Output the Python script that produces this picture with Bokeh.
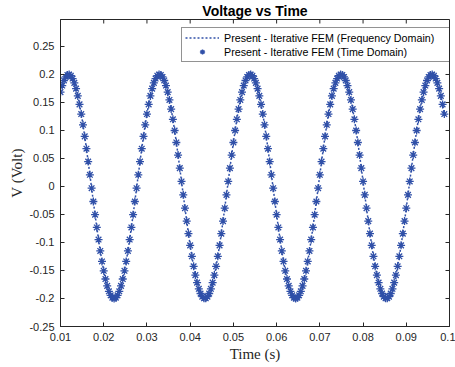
from bokeh.plotting import figure
from bokeh.models import Range1d, FixedTicker, Legend, LegendItem
from bokeh.embed import file_html
from bokeh.resources import INLINE

# ---- data ----
time_s = [
    0.0100, 0.0104, 0.0108, 0.0112, 0.0116, 0.0120, 0.0124, 0.0128, 0.0132, 0.0136,
    0.0140, 0.0144, 0.0148, 0.0152, 0.0156, 0.0160, 0.0164, 0.0168, 0.0172, 0.0176,
    0.0180, 0.0184, 0.0188, 0.0192, 0.0196, 0.0200, 0.0204, 0.0208, 0.0212, 0.0216,
    0.0220, 0.0224, 0.0228, 0.0232, 0.0236, 0.0240, 0.0244, 0.0248, 0.0252, 0.0256,
    0.0260, 0.0264, 0.0268, 0.0272, 0.0276, 0.0280, 0.0284, 0.0288, 0.0292, 0.0296,
    0.0300, 0.0304, 0.0308, 0.0312, 0.0316, 0.0320, 0.0324, 0.0328, 0.0332, 0.0336,
    0.0340, 0.0344, 0.0348, 0.0352, 0.0356, 0.0360, 0.0364, 0.0368, 0.0372, 0.0376,
    0.0380, 0.0384, 0.0388, 0.0392, 0.0396, 0.0400, 0.0404, 0.0408, 0.0412, 0.0416,
    0.0420, 0.0424, 0.0428, 0.0432, 0.0436, 0.0440, 0.0444, 0.0448, 0.0452, 0.0456,
    0.0460, 0.0464, 0.0468, 0.0472, 0.0476, 0.0480, 0.0484, 0.0488, 0.0492, 0.0496,
    0.0500, 0.0504, 0.0508, 0.0512, 0.0516, 0.0520, 0.0524, 0.0528, 0.0532, 0.0536,
    0.0540, 0.0544, 0.0548, 0.0552, 0.0556, 0.0560, 0.0564, 0.0568, 0.0572, 0.0576,
    0.0580, 0.0584, 0.0588, 0.0592, 0.0596, 0.0600, 0.0604, 0.0608, 0.0612, 0.0616,
    0.0620, 0.0624, 0.0628, 0.0632, 0.0636, 0.0640, 0.0644, 0.0648, 0.0652, 0.0656,
    0.0660, 0.0664, 0.0668, 0.0672, 0.0676, 0.0680, 0.0684, 0.0688, 0.0692, 0.0696,
    0.0700, 0.0704, 0.0708, 0.0712, 0.0716, 0.0720, 0.0724, 0.0728, 0.0732, 0.0736,
    0.0740, 0.0744, 0.0748, 0.0752, 0.0756, 0.0760, 0.0764, 0.0768, 0.0772, 0.0776,
    0.0780, 0.0784, 0.0788, 0.0792, 0.0796, 0.0800, 0.0804, 0.0808, 0.0812, 0.0816,
    0.0820, 0.0824, 0.0828, 0.0832, 0.0836, 0.0840, 0.0844, 0.0848, 0.0852, 0.0856,
    0.0860, 0.0864, 0.0868, 0.0872, 0.0876, 0.0880, 0.0884, 0.0888, 0.0892, 0.0896,
    0.0900, 0.0904, 0.0908, 0.0912, 0.0916, 0.0920, 0.0924, 0.0928, 0.0932, 0.0936,
    0.0940, 0.0944, 0.0948, 0.0952, 0.0956, 0.0960, 0.0964, 0.0968, 0.0972, 0.0976,
    0.0980, 0.0984, 0.0988,
]

volt = [
    0.1685, 0.1802, 0.1893, 0.1956, 0.1992, 0.1999, 0.1978, 0.1928, 0.1851, 0.1747,
    0.1618, 0.1466, 0.1293, 0.1102, 0.0895, 0.0675, 0.0445, 0.0209, -0.0030, -0.0268,
    -0.0503, -0.0731, -0.0948, -0.1151, -0.1338, -0.1506, -0.1652, -0.1775, -0.1872, -0.1943,
    -0.1986, -0.2000, -0.1986, -0.1943, -0.1872, -0.1775, -0.1652, -0.1506, -0.1338, -0.1151,
    -0.0948, -0.0731, -0.0503, -0.0268, -0.0030, 0.0209, 0.0445, 0.0675, 0.0895, 0.1102,
    0.1293, 0.1466, 0.1618, 0.1747, 0.1851, 0.1928, 0.1978, 0.1999, 0.1992, 0.1956,
    0.1893, 0.1802, 0.1685, 0.1545, 0.1382, 0.1200, 0.1000, 0.0786, 0.0561, 0.0328,
    0.0090, -0.0149, -0.0387, -0.0618, -0.0841, -0.1051, -0.1247, -0.1425, -0.1582, -0.1717,
    -0.1827, -0.1911, -0.1968, -0.1996, -0.1996, -0.1968, -0.1911, -0.1827, -0.1717, -0.1582,
    -0.1425, -0.1247, -0.1051, -0.0841, -0.0618, -0.0387, -0.0149, 0.0090, 0.0328, 0.0561,
    0.0786, 0.1000, 0.1200, 0.1382, 0.1545, 0.1685, 0.1802, 0.1893, 0.1956, 0.1992,
    0.1999, 0.1978, 0.1928, 0.1851, 0.1747, 0.1618, 0.1466, 0.1293, 0.1102, 0.0895,
    0.0675, 0.0445, 0.0209, -0.0030, -0.0268, -0.0503, -0.0731, -0.0948, -0.1151, -0.1338,
    -0.1506, -0.1652, -0.1775, -0.1872, -0.1943, -0.1986, -0.2000, -0.1986, -0.1943, -0.1872,
    -0.1775, -0.1652, -0.1506, -0.1338, -0.1151, -0.0948, -0.0731, -0.0503, -0.0268, -0.0030,
    0.0209, 0.0445, 0.0675, 0.0895, 0.1102, 0.1293, 0.1466, 0.1618, 0.1747, 0.1851,
    0.1928, 0.1978, 0.1999, 0.1992, 0.1956, 0.1893, 0.1802, 0.1685, 0.1545, 0.1382,
    0.1200, 0.1000, 0.0786, 0.0561, 0.0328, 0.0090, -0.0149, -0.0387, -0.0618, -0.0841,
    -0.1051, -0.1247, -0.1425, -0.1582, -0.1717, -0.1827, -0.1911, -0.1968, -0.1996, -0.1996,
    -0.1968, -0.1911, -0.1827, -0.1717, -0.1582, -0.1425, -0.1247, -0.1051, -0.0841, -0.0618,
    -0.0387, -0.0149, 0.0090, 0.0328, 0.0561, 0.0786, 0.1000, 0.1200, 0.1382, 0.1545,
    0.1685, 0.1802, 0.1893, 0.1956, 0.1992, 0.1999, 0.1978, 0.1928, 0.1851, 0.1747,
    0.1618, 0.1466, 0.1293,
]

x_ticks = [0.01, 0.02, 0.03, 0.04, 0.05, 0.06, 0.07, 0.08, 0.09, 0.1]
x_tick_labels = ["0.01", "0.02", "0.03", "0.04", "0.05", "0.06", "0.07", "0.08", "0.09", "0.1"]
y_ticks = [-0.25, -0.2, -0.15, -0.1, -0.05, 0, 0.05, 0.1, 0.15, 0.2, 0.25]
y_tick_labels = ["-0.25", "-0.2", "-0.15", "-0.1", "-0.05", "0", "0.05", "0.1", "0.15", "0.2", "0.25"]

series_labels = [
    "Present - Iterative FEM (Frequency Domain)",
    "Present - Iterative FEM (Time Domain)",
]

assert len(time_s) == len(volt)

# ---- styling ----
BLUE = "#3050a8"
INK = "#262626"
SANS = "Liberation Sans"
SERIF = "Liberation Serif"
X0, X1 = 0.01, 0.1
Y0, Y1 = -0.25, 0.2982

p = figure(
    width=455, height=367,
    output_backend="svg", toolbar_location=None,
    x_range=Range1d(X0, X1), y_range=Range1d(Y0, Y1),
    min_border_left=60, min_border_right=6, min_border_top=19, min_border_bottom=41,
    title="Voltage vs Time",
)
p.background_fill_color = "white"
p.border_fill_color = "white"
p.outline_line_color = INK
p.outline_line_width = 1
p.xgrid.visible = False
p.ygrid.visible = False

p.title.align = "center"
p.title.text_font = SANS
p.title.text_font_size = "14px"
p.title.text_font_style = "bold"
p.title.text_color = "#000000"
p.title.standoff = 1

x_over = {t: l for t, l in zip(x_ticks, x_tick_labels)}
y_over = {t: l for t, l in zip(y_ticks, y_tick_labels)}


def style_axis(ax, ticks, overrides):
    ax.ticker = FixedTicker(ticks=ticks)
    ax.major_label_overrides = overrides
    ax.major_tick_in = 4
    ax.major_tick_out = 0
    ax.minor_tick_in = 0
    ax.minor_tick_out = 0
    ax.major_tick_line_color = INK
    ax.axis_line_color = INK
    ax.major_label_text_font = SANS
    ax.major_label_text_color = INK
    ax.major_label_text_font_size = "11px"
    ax.major_label_standoff = 6
    ax.axis_label_text_font = SERIF
    ax.axis_label_text_font_style = "normal"
    ax.axis_label_text_font_size = "15px"
    ax.axis_label_text_color = INK


xa = p.xaxis[0]
style_axis(xa, x_ticks, x_over)
xa.axis_label = "Time (s)"
xa.axis_label_standoff = 2

ya = p.yaxis[0]
style_axis(ya, y_ticks, y_over)
ya.axis_label = "V (Volt)"
ya.axis_label_standoff = 1

# inward ticks on the top and right edges of the box (clipped to the frame)
p.scatter(x_ticks, [Y1] * len(x_ticks), marker="dash", angle=1.5708, size=8,
          line_color=INK, line_width=1)
p.scatter([X1] * len(y_ticks), y_ticks, marker="dash", size=8,
          line_color=INK, line_width=1)

r_line = p.line(time_s, volt, line_color=BLUE, line_width=1.5, line_dash="2 2")
r_pts = p.scatter(time_s, volt, marker="asterisk", size=8, line_color=BLUE, line_width=1.3)

legend = Legend(
    items=[
        LegendItem(label=series_labels[0], renderers=[r_line]),
        LegendItem(label=series_labels[1], renderers=[r_pts]),
    ],
    location=(121, 264),
    margin=0,
    padding=3,
    spacing=1,
    glyph_width=34,
    glyph_height=13,
    label_height=13,
    label_width=229,
    label_standoff=5,
    label_text_font=SANS,
    label_text_font_size="10.7px",
    label_text_color="#000000",
    border_line_color=INK,
    border_line_width=1,
    background_fill_color="white",
    background_fill_alpha=1.0,
)
p.add_layout(legend)

open("out.html", "w").write(file_html(p, INLINE))
